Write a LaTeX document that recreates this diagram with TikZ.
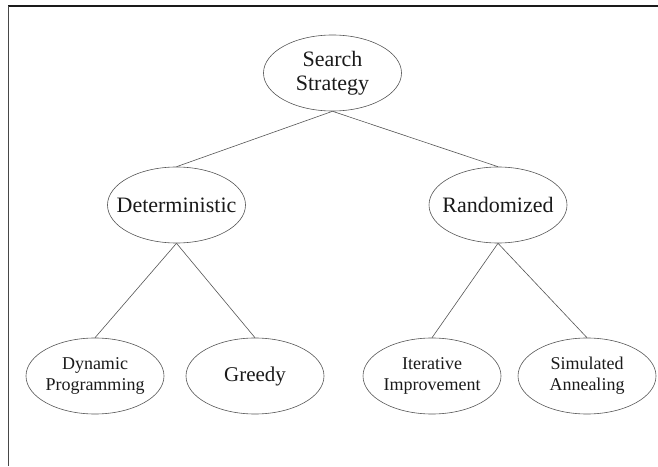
\documentclass[tikz,border=0pt]{standalone}
\usepackage{fontspec}
\setmainfont{Liberation Serif}
\usepackage{tikz}
\usetikzlibrary{shapes.geometric}
\definecolor{ink}{HTML}{1A1A1A}
\definecolor{edge}{HTML}{555555}
\begin{document}
\begin{tikzpicture}[x=1pt,y=1pt,
  oval/.style={ellipse,draw=edge,line width=0.6pt,text=ink,minimum width=138pt,minimum height=76pt,inner xsep=-14pt,inner ysep=0pt,align=center,font=\fontsize{22}{24}\selectfont},
  leaf/.style={oval,font=\fontsize{18}{21}\selectfont},
  link/.style={draw=edge,line width=0.6pt}]
\useasboundingbox (0,0) rectangle (658,466);
% frame
\draw[ink,line width=2pt] (8,459.5) -- (658,459.5);
\draw[ink!80,line width=1.2pt] (8.8,460) -- (8.8,0);
% nodes
\node[oval] (search) at (332.5,393) {Search\\Strategy};
\node[oval] (det) at (176.5,261) {Deterministic};
\node[oval] (rand) at (498,261) {Randomized};
\node[leaf] (dp) at (95,90) {Dynamic\\Programming};
\node[oval,font=\fontsize{21}{24}\selectfont] (greedy) at (255,90) {Greedy};
\node[leaf] (iter) at (432,90) {Iterative\\Improvement};
\node[leaf] (sim) at (587,90) {Simulated\\Annealing};
% links
\draw[link] (search.south) -- (det.north);
\draw[link] (search.south) -- (rand.north);
\draw[link] (det.south) -- (dp.north);
\draw[link] (det.south) -- (greedy.north);
\draw[link] (rand.south) -- (iter.north);
\draw[link] (rand.south) -- (sim.north);
\end{tikzpicture}
\end{document}
